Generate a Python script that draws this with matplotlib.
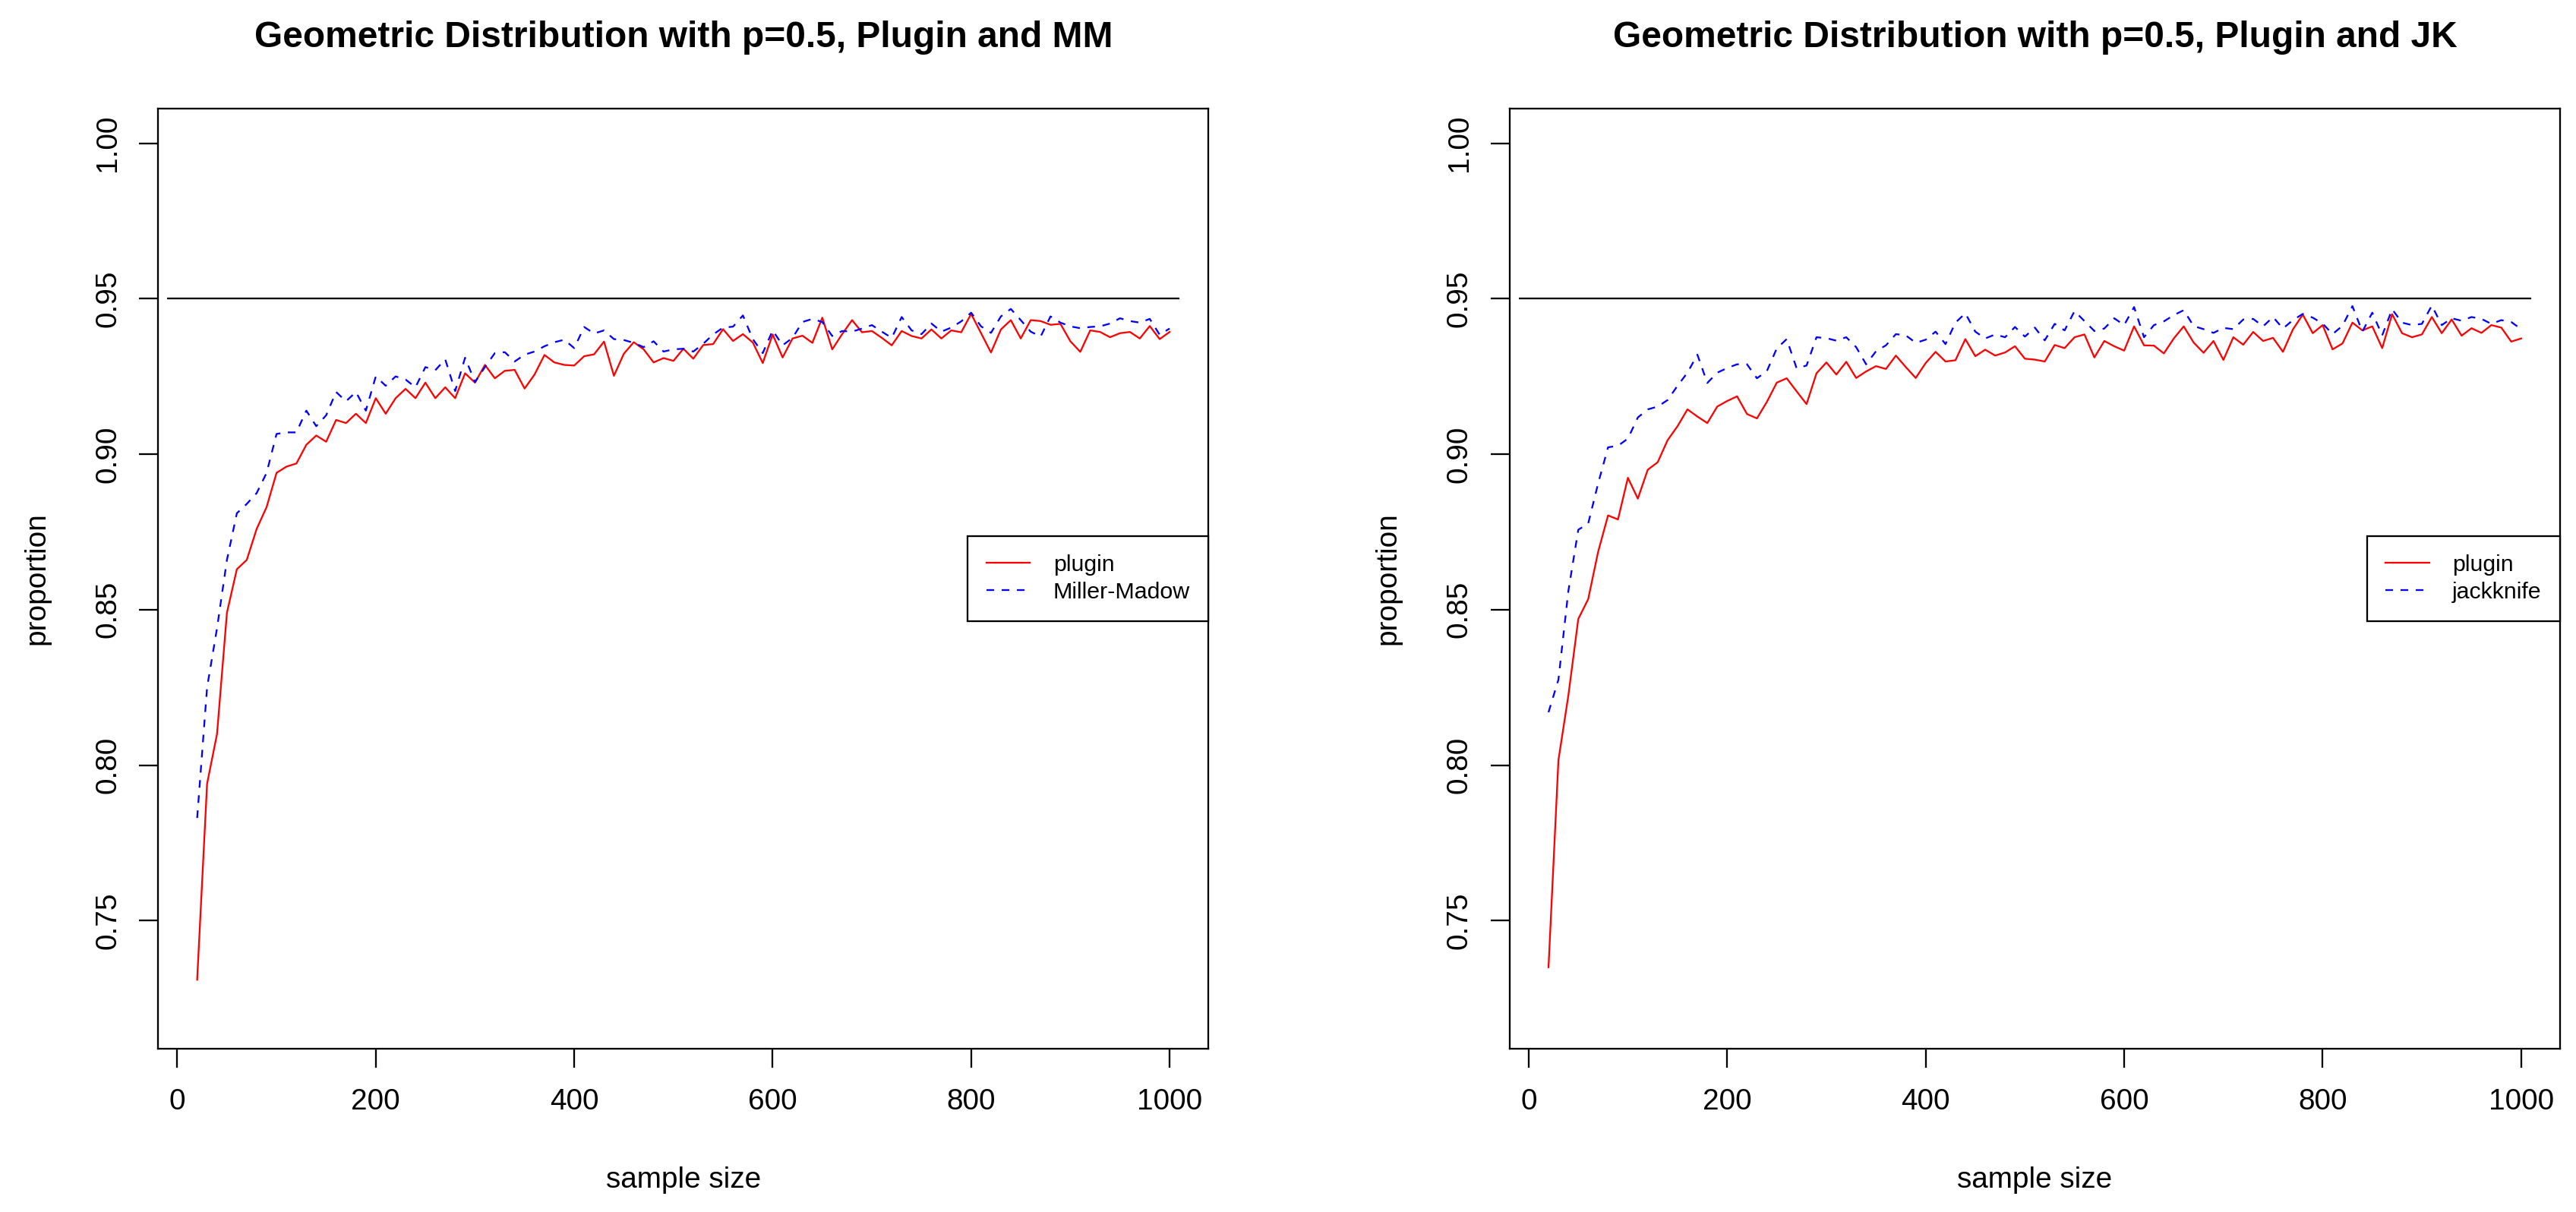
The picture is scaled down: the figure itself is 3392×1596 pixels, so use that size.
import numpy as np
import matplotlib
matplotlib.use("Agg")
import matplotlib.pyplot as plt

plt.rcParams['font.family'] = ['Liberation Sans', 'DejaVu Sans']
plt.rcParams['lines.scale_dashes'] = False

sample_size = np.arange(20, 1001, 10)

mm_plugin = [
    0.731, 0.794, 0.810, 0.849, 0.863, 0.866, 0.876, 0.883, 0.894, 0.896,
    0.897, 0.903, 0.906, 0.904, 0.911, 0.910, 0.913, 0.910, 0.918, 0.913,
    0.918, 0.921, 0.918, 0.923, 0.918, 0.9215, 0.918, 0.926, 0.923, 0.9287,
    0.9244, 0.9268, 0.9271, 0.9211, 0.9256, 0.9319, 0.9295, 0.9287, 0.9285, 0.9315,
    0.9321, 0.9362, 0.9252, 0.9323, 0.936, 0.9337, 0.9295, 0.9309, 0.930, 0.9339,
    0.9307, 0.9351, 0.9354, 0.9402, 0.9364, 0.9386, 0.9359, 0.9293, 0.9385, 0.9311,
    0.9372, 0.9381, 0.9358, 0.9439, 0.9337, 0.9386, 0.9431, 0.9392, 0.9396, 0.9374,
    0.935, 0.9396, 0.938, 0.9372, 0.9401, 0.9372, 0.9398, 0.9392, 0.9451, 0.9389,
    0.9327, 0.9401, 0.9431, 0.9372, 0.9431, 0.9428, 0.9416, 0.9419, 0.9363, 0.9329,
    0.9398, 0.9393, 0.9376, 0.9389, 0.9393, 0.9372, 0.9412, 0.937, 0.9393,
]

miller_madow = [
    0.783, 0.825, 0.844, 0.866, 0.881, 0.884, 0.8875, 0.894, 0.9065, 0.907,
    0.907, 0.914, 0.909, 0.9125, 0.920, 0.917, 0.920, 0.914, 0.925, 0.922,
    0.925, 0.924, 0.9215, 0.928, 0.927, 0.9305, 0.9203, 0.931, 0.9232, 0.928,
    0.9325, 0.9328, 0.9298, 0.932, 0.933, 0.9347, 0.936, 0.9368, 0.9341, 0.9409,
    0.9388, 0.9398, 0.937, 0.9367, 0.9358, 0.9344, 0.9363, 0.933, 0.9337, 0.9339,
    0.933, 0.9355, 0.9385, 0.9407, 0.941, 0.9446, 0.937, 0.9325, 0.9398, 0.935,
    0.9374, 0.9425, 0.9435, 0.9425, 0.938, 0.9396, 0.9394, 0.9404, 0.9415, 0.9394,
    0.9374, 0.9441, 0.9398, 0.9386, 0.942, 0.9394, 0.9407, 0.9427, 0.9455, 0.9411,
    0.939, 0.9443, 0.9467, 0.9431, 0.9394, 0.9378, 0.9443, 0.9423, 0.9411, 0.9405,
    0.9409, 0.9411, 0.942, 0.9437, 0.9428, 0.9423, 0.9435, 0.9384, 0.9404,
]

jk_plugin = [
    0.735, 0.8016, 0.8224, 0.847, 0.8534, 0.8686, 0.8803, 0.879, 0.8924, 0.8857,
    0.895, 0.8974, 0.9045, 0.909, 0.9144, 0.9121, 0.910, 0.9153, 0.9171, 0.9186,
    0.9129, 0.9115, 0.9168, 0.923, 0.9244, 0.9202, 0.9161, 0.926, 0.9295, 0.9256,
    0.9297, 0.9245, 0.9266, 0.9283, 0.9274, 0.9317, 0.928, 0.9245, 0.9293, 0.9329,
    0.9298, 0.9302, 0.937, 0.9315, 0.9336, 0.9317, 0.9327, 0.9347, 0.9307, 0.9304,
    0.9298, 0.9351, 0.9341, 0.9376, 0.9385, 0.9311, 0.9364, 0.9347, 0.9333, 0.9411,
    0.935, 0.9349, 0.9324, 0.9372, 0.9411, 0.9359, 0.9326, 0.9364, 0.9303, 0.9376,
    0.9352, 0.9393, 0.9364, 0.9374, 0.9329, 0.9401, 0.9449, 0.9389, 0.9415, 0.9337,
    0.9356, 0.9423, 0.9398, 0.9411, 0.9341, 0.945, 0.9389, 0.9376, 0.9385, 0.9441,
    0.9389, 0.9433, 0.9381, 0.9405, 0.939, 0.9415, 0.9407, 0.9362, 0.9372,
]

jackknife = [
    0.817, 0.8275, 0.856, 0.8757, 0.8777, 0.8906, 0.9022, 0.9027, 0.905, 0.9118,
    0.9144, 0.9153, 0.9174, 0.922, 0.9262, 0.932, 0.9229, 0.9262, 0.9277, 0.9289,
    0.9289, 0.9244, 0.9267, 0.934, 0.937, 0.9276, 0.9285, 0.9376, 0.9373, 0.9365,
    0.9376, 0.9344, 0.9289, 0.9331, 0.935, 0.9386, 0.9382, 0.9358, 0.9368, 0.9394,
    0.9354, 0.9423, 0.9453, 0.9394, 0.9372, 0.9385, 0.9376, 0.9409, 0.9378, 0.9407,
    0.9366, 0.9419, 0.9398, 0.946, 0.9428, 0.9396, 0.9404, 0.9437, 0.9415, 0.9473,
    0.9376, 0.9415, 0.9427, 0.9447, 0.9463, 0.9412, 0.9402, 0.939, 0.9406, 0.9402,
    0.9433, 0.9435, 0.9411, 0.9441, 0.9404, 0.9431, 0.9451, 0.9439, 0.942, 0.9386,
    0.9413, 0.9476, 0.9394, 0.9455, 0.9382, 0.9466, 0.9423, 0.9415, 0.9419, 0.9478,
    0.9415, 0.9437, 0.9429, 0.9441, 0.9435, 0.9419, 0.9431, 0.9425, 0.9402,
]

target = 0.95
target_span = (-10, 1010)
x_ticks = [0, 200, 400, 600, 800, 1000]
y_ticks = [0.75, 0.80, 0.85, 0.90, 0.95, 1.00]
y_tick_labels = ["0.75", "0.80", "0.85", "0.90", "0.95", "1.00"]

panels = [
    ("Geometric Distribution with p=0.5, Plugin and MM", mm_plugin, miller_madow, "Miller-Madow"),
    ("Geometric Distribution with p=0.5, Plugin and JK", jk_plugin, jackknife, "jackknife"),
]

W, H = 3392, 1596
DPI = 300
fig = plt.figure(figsize=(W / DPI, H / DPI), dpi=DPI)

LW = 0.55
axes_px = [(208.4, 1591.3), (1987.8, 3371.0)]
top_px, bot_px = 142.7, 1381.0

xmin, xmax = 20, 1000
xpad = 0.04 * (xmax - xmin)
ylo, yhi = 0.72, 1.0
ypad = 0.04 * (yhi - ylo)

for (title, plug, other, other_lab), (l, r) in zip(panels, axes_px):
    ax = fig.add_axes([l / W, 1 - bot_px / H, (r - l) / W, (bot_px - top_px) / H])
    ax.hlines(target, target_span[0], target_span[1], color='black', lw=LW)
    ax.plot(sample_size, plug, color='#FF0000', lw=LW, label='plugin')
    ax.plot(sample_size, other, color='#0000FF', lw=LW, dashes=(2.4, 2.4), label=other_lab)
    ax.set_xlim(xmin - xpad, xmax + xpad)
    ax.set_ylim(ylo - ypad, yhi + ypad)
    ax.set_xticks(x_ticks)
    ax.set_xticklabels([str(t) for t in x_ticks])
    ax.set_yticks(y_ticks)
    ax.set_yticklabels(y_tick_labels, rotation=90, va='center')
    ax.tick_params(direction='out', length=6, width=LW, labelsize=9.3, color='black')
    ax.tick_params(axis='x', pad=6.5)
    ax.tick_params(axis='y', pad=5.5)
    for s in ax.spines.values():
        s.set_linewidth(LW)
        s.set_color('black')
    leg = ax.legend(loc='center right', bbox_to_anchor=(1.0, 0.5), fontsize=7.3,
                    frameon=True, fancybox=False, edgecolor='black', framealpha=1,
                    borderpad=0.8, handlelength=1.9, handletextpad=1.0,
                    labelspacing=0.25, borderaxespad=0.0)
    leg.get_frame().set_linewidth(LW)

    cx = (l + r) / 2 / W
    fig.text(cx, 1 - 61.7 / H, title, ha='center', va='baseline',
             fontsize=11.5, fontweight='bold')
    fig.text(cx, 32 / H, "sample size", ha='center', va='baseline', fontsize=9.3)
    fig.text((l - 160.4) / W, 1 - (top_px + bot_px) / 2 / H, "proportion",
             ha='center', va='center', rotation=90, fontsize=9.3)

fig.savefig("out.png", dpi=DPI, facecolor='white')
